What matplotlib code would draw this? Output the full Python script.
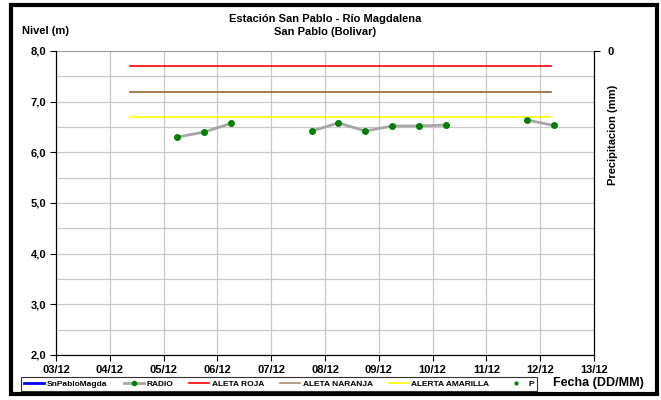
import matplotlib
matplotlib.use("Agg")
import matplotlib.pyplot as plt
import matplotlib.dates as mdates
from matplotlib.lines import Line2D
from matplotlib.patches import Rectangle
import numpy as np
import pandas as pd

plt.rcParams['font.family'] = ['Liberation Sans', 'DejaVu Sans']
plt.rcParams['font.weight'] = 'bold'

# ---- data ----
radio_times = ["2012-12-05 06:00", "2012-12-05 18:00", "2012-12-06 06:00", "2012-12-06 18:00",
               "2012-12-07 18:00", "2012-12-08 06:00", "2012-12-08 18:00", "2012-12-09 06:00",
               "2012-12-09 18:00", "2012-12-10 06:00", "2012-12-10 18:00",
               "2012-12-11 18:00", "2012-12-12 06:00"]
radio_values = [6.30, 6.40, 6.57, np.nan,
                6.42, 6.58, 6.42, 6.52,
                6.52, 6.54, np.nan,
                6.64, 6.53]

alert_times = ["2012-12-04 09:00", "2012-12-12 05:00"]
alerta_roja = [7.7, 7.7]
alerta_naranja = [7.2, 7.2]
alerta_amarilla = [6.7, 6.7]

x_start, x_end = "2012-12-03", "2012-12-13"
y_ticks = [2.0, 3.0, 4.0, 5.0, 6.0, 7.0, 8.0]

title_lines = ["Estación San Pablo - Río Magdalena", "San Pablo (Bolivar)"]
legend_labels = ["SnPabloMagda", "RADIO", "ALETA ROJA", "ALETA NARANJA", "ALERTA AMARILLA", "P"]

# ---- figure ----
W, H = 661, 400
fig = plt.figure(figsize=(W / 100, H / 100), dpi=100)
ax = fig.add_axes([56 / W, 1 - 355 / H, (594 - 56) / W, (355 - 51) / H])

rt = pd.to_datetime(radio_times)
at = pd.to_datetime(alert_times)

ax.plot(at, alerta_roja, color='#ff0000', lw=1.2, zorder=3)
ax.plot(at, alerta_naranja, color='#996633', lw=1.2, zorder=3)
ax.plot(at, alerta_amarilla, color='#ffff00', lw=1.2, zorder=3)
ax.plot(rt, radio_values, color='#a6a6a6', lw=2.0, marker='o', ms=4.0,
        mfc='#008000', mec='#008000', zorder=4)

ax.set_xlim(pd.Timestamp(x_start), pd.Timestamp(x_end))
ax.set_ylim(2.0, 8.0)
ax.xaxis.set_major_locator(mdates.DayLocator())
ax.xaxis.set_major_formatter(mdates.DateFormatter('%d/%m'))
ax.set_yticks(y_ticks)
ax.set_yticklabels([f"{v:.1f}".replace('.', ',') for v in y_ticks])
ax.set_yticks(np.arange(2.5, 8.0, 1.0), minor=True)
ax.tick_params(axis='y', which='minor', length=0)
ax.tick_params(axis='both', which='major', direction='out', length=4, width=0.8,
               labelsize=8, pad=3)
for lab in ax.get_xticklabels() + ax.get_yticklabels():
    lab.set_fontweight('bold')

ax.grid(True, which='both', axis='y', color='#c8c8c8', lw=0.9)
ax.grid(True, which='major', axis='x', color='#c8c8c8', lw=0.9)
ax.set_axisbelow(True)
ax.spines['top'].set_color('#a0a0a0')
for s in ['left', 'bottom', 'right']:
    ax.spines[s].set_color('black')
    ax.spines[s].set_linewidth(0.8)

ax2 = ax.twinx()
ax2.set_ylim(100, 0)
ax2.set_yticks([0])
ax2.set_yticklabels(['0'], fontweight='bold')
ax2.tick_params(axis='y', direction='out', length=4, width=0.8, labelsize=8, pad=6)
ax2.spines['right'].set_color('black')
ax2.spines['right'].set_linewidth(0.8)
ax2.spines['top'].set_visible(False)

fig.text(325 / W, 1 - 19 / H, title_lines[0], ha='center', va='center', fontsize=8,
         fontweight='bold')
fig.text(325 / W, 1 - 32 / H, title_lines[1], ha='center', va='center', fontsize=8,
         fontweight='bold')
fig.text(22 / W, 1 - 31 / H, "Nivel (m)", ha='left', va='center', fontsize=8, fontweight='bold')
fig.text(613 / W, 1 - 135 / H, "Precipitacion (mm)", ha='center', va='center',
         rotation=90, fontsize=8, fontweight='bold')
fig.text(598 / W, 1 - 383 / H, "Fecha (DD/MM)", ha='center', va='center',
         fontsize=9, fontweight='bold')

handles = [
    Line2D([], [], color='#0000ff', lw=2),
    Line2D([], [], color='#a6a6a6', lw=2, marker='o', ms=3, mfc='#008000', mec='#008000'),
    Line2D([], [], color='#ff0000', lw=1.2),
    Line2D([], [], color='#b08a68', lw=1.2),
    Line2D([], [], color='#ffff00', lw=1.2),
    Line2D([], [], color='#008000', lw=0, marker='o', ms=2),
]
leg = fig.legend(handles, legend_labels, loc='lower left',
                 bbox_to_anchor=(21 / W, 1 - 391 / H),
                 ncol=6, frameon=True, fancybox=False, edgecolor='black',
                 prop={'size': 6, 'weight': 'bold'}, handlelength=2.4, handletextpad=0.3,
                 columnspacing=1.95, borderpad=0.4, borderaxespad=0)
leg.get_frame().set_linewidth(0.8)

fig.patches.append(Rectangle((11 / W, 1 - 394 / H), (657 - 11) / W, (394 - 5) / H,
                             transform=fig.transFigure, fill=False, lw=3, edgecolor='black'))

fig.savefig("out.png", dpi=100)
